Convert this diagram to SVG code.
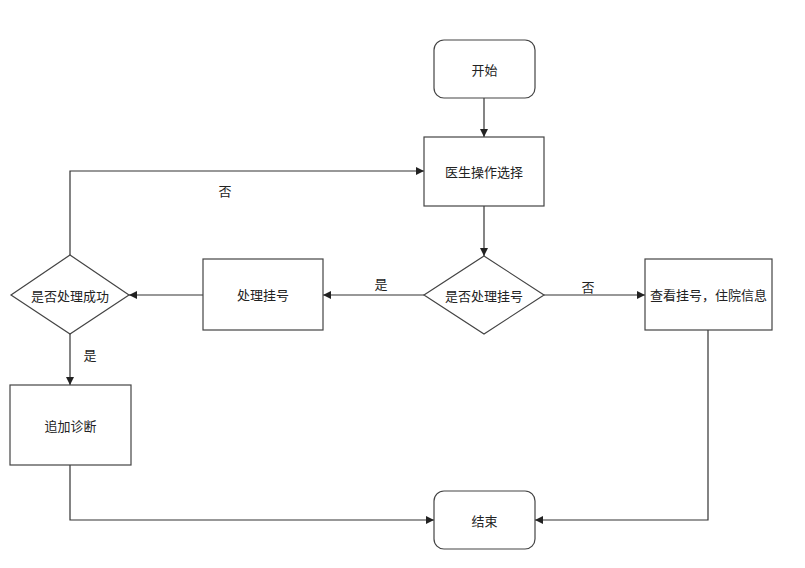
<svg xmlns="http://www.w3.org/2000/svg" width="805" height="568" viewBox="0 0 805 568">
<style>
.n{fill:#fff;stroke:#444;stroke-width:1.2}
.e{fill:none;stroke:#333;stroke-width:1.2}
.t{font-family:"Noto Sans CJK SC","Noto Sans",sans-serif;font-size:13px;fill:#222;text-anchor:middle;dominant-baseline:central}
</style>
<defs>
<marker id="a" viewBox="0 0 10 10" refX="10" refY="5" markerWidth="8" markerHeight="8" markerUnits="userSpaceOnUse" orient="auto">
<path d="M0,0 L10,5 L0,10 z" fill="#222"/>
</marker>
</defs>
<rect width="805" height="568" fill="#fff"/>
<g id="edges">
<path class="e" d="M484,98 V137" marker-end="url(#a)"/>
<path class="e" d="M484,206 V256" marker-end="url(#a)"/>
<path class="e" d="M424,295 H323" marker-end="url(#a)"/>
<path class="e" d="M544,295 H645" marker-end="url(#a)"/>
<path class="e" d="M203,295 H129" marker-end="url(#a)"/>
<path class="e" d="M70,255 V171 H424" marker-end="url(#a)"/>
<path class="e" d="M70,334 V385" marker-end="url(#a)"/>
<path class="e" d="M70,465 V520 H434" marker-end="url(#a)"/>
<path class="e" d="M708,330 V520 H535" marker-end="url(#a)"/>
<text class="t" x="381" y="283">是</text>
<text class="t" x="588" y="286">否</text>
<text class="t" x="225" y="190">否</text>
<text class="t" x="90" y="354">是</text>
</g>
<g id="start"><rect class="n" x="434" y="40" width="101" height="58" rx="10"/><text class="t" x="484.5" y="69">开始</text></g>
<g id="choose"><rect class="n" x="424" y="137" width="120" height="69"/><text class="t" x="484" y="171.5">医生操作选择</text></g>
<g id="decide1"><polygon class="n" points="484,256 544,295 484,334 424,295"/><text class="t" x="484" y="295">是否处理挂号</text></g>
<g id="handle"><rect class="n" x="203" y="259" width="120" height="71"/><text class="t" x="263" y="294.5">处理挂号</text></g>
<g id="view"><rect class="n" x="645" y="259" width="127" height="71"/><text class="t" x="708.5" y="294.5">查看挂号，住院信息</text></g>
<g id="decide2"><polygon class="n" points="70,255 129,295 70,334 11,295"/><text class="t" x="70" y="295">是否处理成功</text></g>
<g id="diag"><rect class="n" x="10" y="385" width="121" height="80"/><text class="t" x="70.5" y="425">追加诊断</text></g>
<g id="end"><rect class="n" x="434" y="491" width="101" height="58" rx="10"/><text class="t" x="484.5" y="520">结束</text></g>
</svg>
